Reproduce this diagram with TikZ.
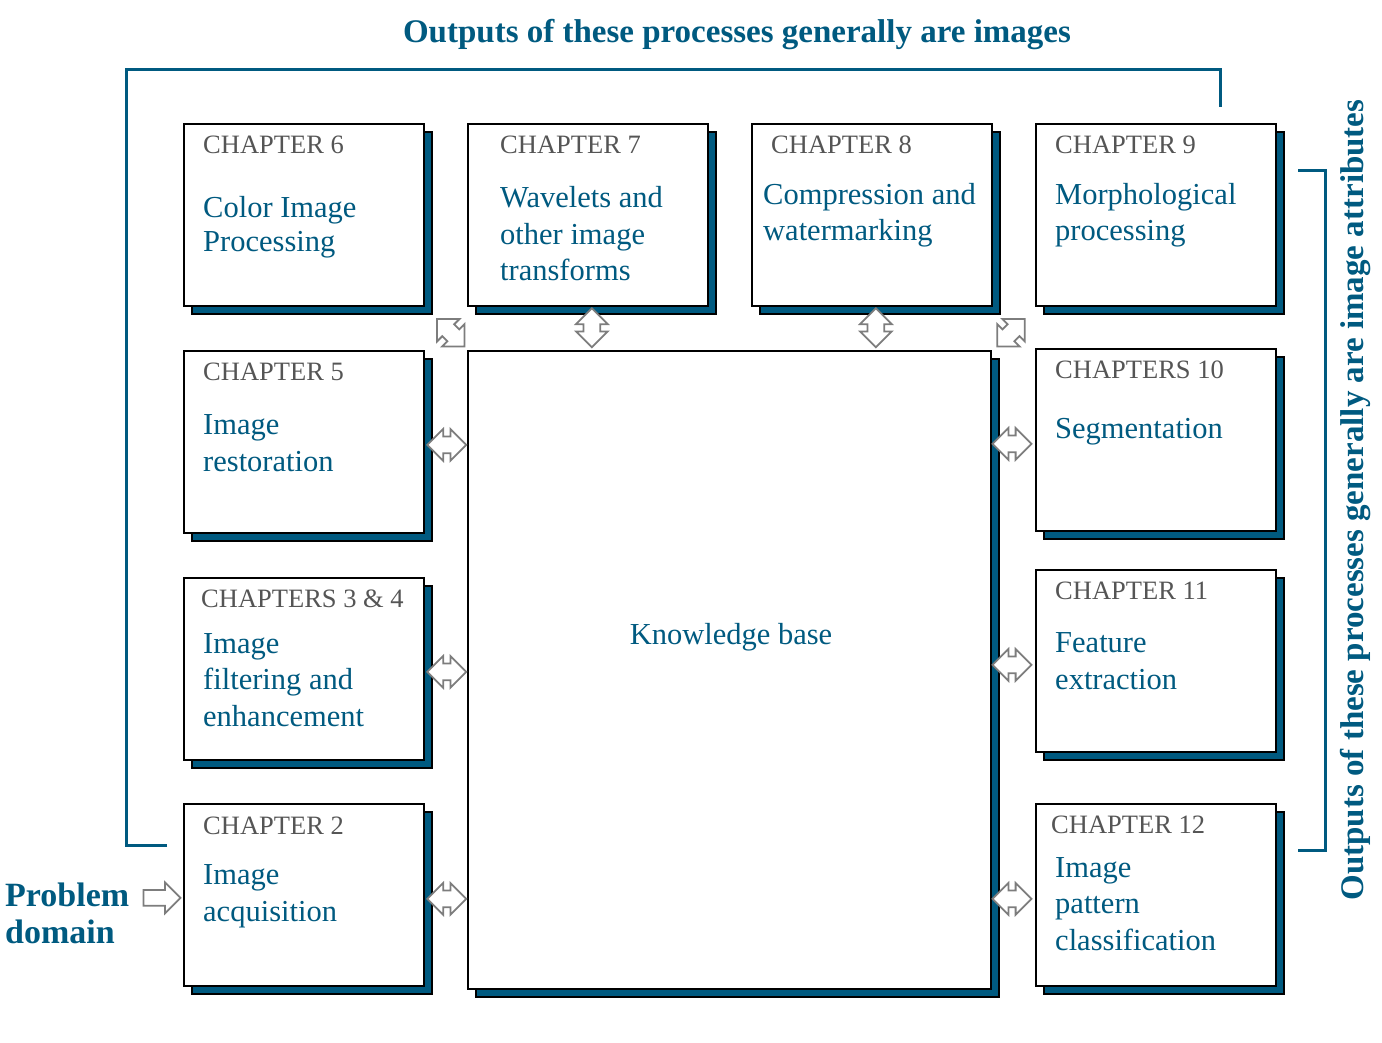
\documentclass[tikz,border=0pt]{standalone}
\usepackage{fontspec}
\setmainfont{Liberation Serif}
\usetikzlibrary{shapes.arrows,calc,shadows}
\definecolor{tealc}{RGB}{0,90,128}
\definecolor{labc}{RGB}{85,85,85}
\definecolor{agray}{RGB}{125,125,125}
\begin{document}
\begin{tikzpicture}[x=1pt,y=-1pt,
  shadowed/.style={general shadow={shadow xshift=8pt, shadow yshift=-8pt, fill=tealc, draw=black, line width=1.2pt}},
  chbox/.style={shadowed, draw=black, line width=1.8pt, fill=white, minimum width=240pt, minimum height=182pt, inner sep=0pt, anchor=north west},
  lbl/.style={anchor=west, inner sep=0pt, text=labc, font=\fontsize{26.5}{30}\selectfont},
  body/.style={anchor=west, inner sep=0pt, align=left, text=tealc, font=\fontsize{30.5}{36.5}\selectfont},
  dblarrow/.style={double arrow, draw=agray, line width=1.8pt, fill=white, inner xsep=0pt, inner ysep=7.5pt, minimum height=39pt, minimum width=0pt, double arrow head extend=7.5pt},
  sglarrow/.style={single arrow, draw=agray, line width=1.8pt, fill=white, inner xsep=0pt, inner ysep=7pt, minimum height=37pt, minimum width=0pt, single arrow head extend=7.5pt},
  bracket/.style={draw=tealc, line width=3pt},
  ttl/.style={text=tealc, inner sep=0pt, font=\bfseries\fontsize{33}{38}\selectfont}]
\useasboundingbox (0,0) rectangle (1382,1042);

% boxes
\node[chbox] (c6) at (183,123) {};
\node[chbox] (c7) at (467,123) {};
\node[chbox] (c8) at (751,123) {};
\node[chbox] (c9) at (1035,123) {};
\node[chbox] (c5) at (183,350) {};
\node[chbox] (c34) at (183,577) {};
\node[chbox] (c2) at (183,803) {};
\node[chbox] (c10) at (1035,348) {};
\node[chbox] (c11) at (1035,569) {};
\node[chbox] (c12) at (1035,803) {};
\node[chbox, minimum width=523pt, minimum height=638pt] (kb) at (467,350) {};

% labels
\node[lbl] (l6) at ($(c6.north west)+(20,22)$) {CHAPTER 6};
\node[lbl] (l7) at ($(c7.north west)+(33,22)$) {CHAPTER 7};
\node[lbl] (l8) at ($(c8.north west)+(20,22)$) {CHAPTER 8};
\node[lbl] (l9) at ($(c9.north west)+(20,22)$) {CHAPTER 9};
\node[lbl] (l5) at ($(c5.north west)+(20,22)$) {CHAPTER 5};
\node[lbl] (l34) at ($(c34.north west)+(18,22)$) {CHAPTERS 3 \& 4};
\node[lbl] (l2) at ($(c2.north west)+(20,23)$) {CHAPTER 2};
\node[lbl] (l10) at ($(c10.north west)+(20,22)$) {CHAPTERS 10};
\node[lbl] (l11) at ($(c11.north west)+(20,22)$) {CHAPTER 11};
\node[lbl] (l12) at ($(c12.north west)+(16,22)$) {CHAPTER 12};

% body texts
\node[body, font=\fontsize{30.5}{34}\selectfont] (t6) at ($(c6.north west)+(20,104)$) {Color Image\\Processing};
\node[body] (t7) at ($(c7.north west)+(33,111)$) {Wavelets and\\other image\\transforms};
\node[body] (t8) at ($(c8.north west)+(12,92)$) {Compression and\\watermarking};
\node[body] (t9) at ($(c9.north west)+(20,92)$) {Morphological\\processing};
\node[body] (t5) at ($(c5.north west)+(20,93)$) {Image\\restoration};
\node[body] (t34) at ($(c34.north west)+(20,103)$) {Image\\filtering and\\enhancement};
\node[body] (t2) at ($(c2.north west)+(20,93)$) {Image\\acquisition};
\node[body] (t10) at ($(c10.north west)+(20,84)$) {Segmentation};
\node[body] (t11) at ($(c11.north west)+(20,92)$) {Feature\\extraction};
\node[body] (t12) at ($(c12.north west)+(20,101)$) {Image\\pattern\\classification};
\node[body, anchor=center] (tkb) at (731,637) {Knowledge base};

% arrows
\node[dblarrow] (a5) at ($(c5.east)+(22,3)$) {};
\node[dblarrow] (a34) at ($(c34.east)+(22,3)$) {};
\node[dblarrow] (a2) at ($(c2.east)+(22,4)$) {};
\node[dblarrow] (a10) at ($(c10.west)+(-23,4)$) {};
\node[dblarrow] (a11) at ($(c11.west)+(-23,4)$) {};
\node[dblarrow] (a12) at ($(c12.west)+(-23,4)$) {};
\node[dblarrow, rotate=90] (a7) at ($(c7.south)+(4,21)$) {};
\node[dblarrow, rotate=90] (a8) at ($(c8.south)+(4,21)$) {};
\node[dblarrow, rotate=-45] (a6) at ($(c6.south east)+(26,26)$) {};
\node[dblarrow, rotate=45] (a9) at ($(c9.south west)+(-24,26)$) {};
\node[sglarrow] (apd) at ($(c2.west)+(-25,3)$) {};

% problem domain
\node[ttl, anchor=west, align=left, font=\bfseries\fontsize{34}{37}\selectfont] (pd) at (5,913) {Problem\\domain};

% brackets
\coordinate (b1) at (167,845);
\coordinate (b2) at (1220,107);
\draw[bracket] (b1) -- (126,845) -- (126,69) -- (1220,69) -- (b2);
\coordinate (r1) at (1298,170);
\coordinate (r2) at (1298,850);
\draw[bracket] (r1) -- (1325,170) -- (1325,850) -- (r2);

% titles
\node[ttl] (top) at (737,35) {Outputs of these processes generally are images};
\node[ttl, rotate=90] (side) at (1356,500) {Outputs of these processes generally are image attributes};
\end{tikzpicture}
\end{document}
